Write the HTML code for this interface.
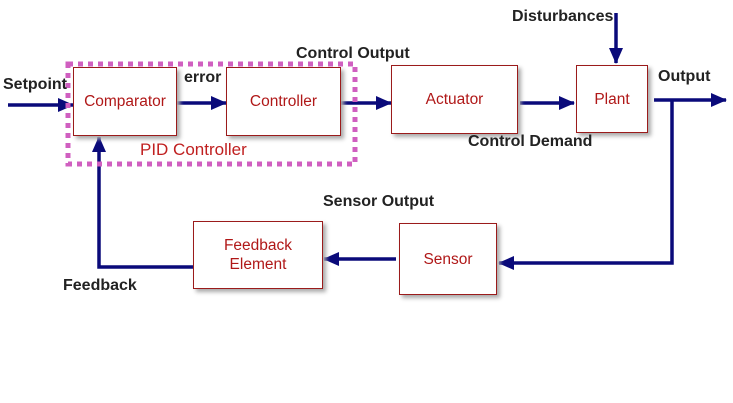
<!DOCTYPE html>
<html><head><style>
body{margin:0;background:#fff;width:733px;height:403px;overflow:hidden;position:relative;font-family:"Liberation Sans",Arial,sans-serif}
.b{position:absolute;border:1.5px solid #9b1b1b;background:#fff;box-shadow:3px 3px 4px #aaa;color:#b01818;font-size:15.5px;display:flex;align-items:center;justify-content:center;text-align:center;box-sizing:border-box;line-height:19px}
.t{position:absolute;font-weight:bold;font-size:16px;color:#222;white-space:nowrap}
</style></head><body>
<svg width="733" height="403" style="position:absolute;left:0;top:0">
<defs>
<marker id="A" markerWidth="16" markerHeight="14" refX="15" refY="7" orient="auto" markerUnits="userSpaceOnUse"><path d="M0,0 L16,7 L0,14z" fill="#0a0a7a"/></marker></defs>
<g stroke="#0a0a7a" stroke-width="3.5" fill="none">
<line x1="8" y1="105" x2="73" y2="105" marker-end="url(#A)"/>
<line x1="177" y1="103" x2="226" y2="103" marker-end="url(#A)"/>
<line x1="341" y1="103" x2="391" y2="103" marker-end="url(#A)"/>
<line x1="520" y1="103" x2="574" y2="103" marker-end="url(#A)"/>
<line x1="616" y1="13" x2="616" y2="63" marker-end="url(#A)"/>
<line x1="654" y1="100" x2="726" y2="100" marker-end="url(#A)"/>
<polyline points="672,100 672,263 499,263" marker-end="url(#A)"/>
<line x1="396" y1="259" x2="324" y2="259" marker-end="url(#A)"/>
<polyline points="193,267 99,267 99,137" marker-end="url(#A)"/>
</g>
<rect x="68" y="64" width="287" height="100" fill="none" stroke="#d05fc0" stroke-width="5" stroke-dasharray="5,5"/>
</svg>
<div class="b" style="left:73px;top:67px;width:104px;height:69px">Comparator</div>
<div class="b" style="left:226px;top:67px;width:115px;height:69px">Controller</div>
<div class="b" style="left:391px;top:65px;width:127px;height:69px">Actuator</div>
<div class="b" style="left:576px;top:65px;width:72px;height:68px">Plant</div>
<div class="b" style="left:399px;top:223px;width:98px;height:72px">Sensor</div>
<div class="b" style="left:193px;top:221px;width:130px;height:68px">Feedback<br>Element</div>
<div style="position:absolute;left:140px;top:140px;color:#c02020;font-size:17px">PID Controller</div>
<div class="t" style="left:3px;top:76px">Setpoint</div>
<div class="t" style="left:184px;top:69px">error</div>
<div class="t" style="left:296px;top:45px">Control Output</div>
<div class="t" style="left:512px;top:8px">Disturbances</div>
<div class="t" style="left:658px;top:68px">Output</div>
<div class="t" style="left:468px;top:133px">Control Demand</div>
<div class="t" style="left:323px;top:193px">Sensor Output</div>
<div class="t" style="left:63px;top:277px">Feedback</div>
</body></html>
